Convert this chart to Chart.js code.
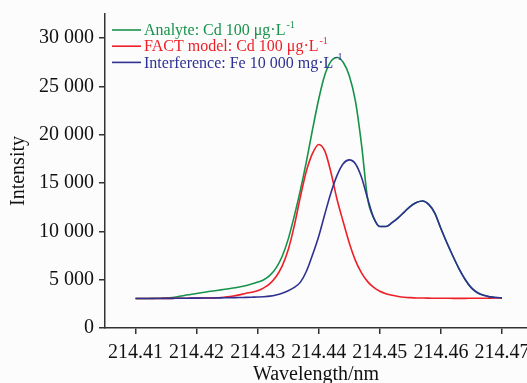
<!DOCTYPE html>
<html>
<head>
<meta charset="utf-8">
<script src="https://cdn.jsdelivr.net/npm/chart.js@4"></script>
<style>
  html, body { margin: 0; padding: 0; background: #fcfcfc; }
  #wrap { width: 527px; height: 383px; overflow: hidden; position: relative; }
  #chartbox { position: absolute; left: 0; top: -3px; }
</style>
</head>
<body>
<div id="wrap"><canvas id="chartbox" width="560" height="386"></canvas></div>
<script>
// wavelengths (nm)
const wavelength = [
  214.410, 214.411, 214.412, 214.413, 214.414, 214.415, 214.416, 214.417, 214.418, 214.419,
  214.420, 214.421, 214.422, 214.423, 214.424, 214.425, 214.426, 214.427, 214.428, 214.429,
  214.430, 214.431, 214.432, 214.433, 214.434, 214.435, 214.436, 214.437, 214.438, 214.439,
  214.440, 214.441, 214.442, 214.443, 214.444, 214.445, 214.446, 214.447, 214.448, 214.449,
  214.450, 214.451, 214.452, 214.453, 214.454, 214.455, 214.456, 214.457, 214.458, 214.459,
  214.460, 214.461, 214.462, 214.463, 214.464, 214.465, 214.466, 214.467, 214.468, 214.469,
  214.470
]

const analyte = [
  3060, 3060, 3060, 3070, 3080, 3100, 3150, 3250, 3370, 3470,
  3570, 3670, 3770, 3860, 3950, 4040, 4140, 4250, 4380, 4550,
  4750, 5000, 5450, 6200, 7400, 9200, 11600, 14300, 17300, 20600,
  23700, 26200, 27600, 28000, 27500, 26100, 23500, 19000, 13400, 11400,
  10500, 10500, 10900, 11400, 12000, 12600, 13000, 13150, 12800, 11900,
  10300, 8800, 7400, 6100, 5000, 4150, 3650, 3380, 3220, 3150,
  3120
]

const factModel = [
  3060, 3060, 3060, 3060, 3060, 3070, 3070, 3080, 3080, 3090,
  3090, 3100, 3100, 3120, 3160, 3230, 3320, 3430, 3580, 3700,
  3850, 4150, 4600, 5300, 6400, 8100, 10600, 13600, 16300, 18100,
  19000, 18300, 16100, 13300, 11000, 8800, 7000, 5700, 4800, 4200,
  3800, 3550, 3380, 3260, 3180, 3140, 3110, 3100, 3090, 3080,
  3080, 3080, 3070, 3070, 3070, 3080, 3080, 3080, 3090, 3100,
  3110
]

const interference = [
  3060, 3060, 3050, 3060, 3060, 3070, 3070, 3080, 3080, 3090,
  3090, 3100, 3100, 3110, 3120, 3130, 3140, 3150, 3170, 3190,
  3210, 3240, 3300, 3420, 3600, 3850, 4200, 4750, 5900, 7600,
  9500, 11800, 14000, 15800, 17000, 17400, 17000, 15600, 13400, 11400,
  10500, 10500, 10900, 11400, 12000, 12600, 13000, 13150, 12800, 11900,
  10300, 8800, 7400, 6100, 5000, 4150, 3650, 3380, 3220, 3150,
  3120
]

const xTicks = [214.41, 214.42, 214.43, 214.44, 214.45, 214.46, 214.47]
const yTicks = [0, 5000, 10000, 15000, 20000, 25000, 30000]

const GREEN = '#17924a'
const RED = '#ee1f26'
const BLUE = '#2e3192'
const AXIS = '#333333'
const SERIF = "'Liberation Serif', 'DejaVu Serif', serif"

const legendItems = [
  { color: GREEN, text: 'Analyte: Cd 100 μg·L', sup: '-1' },
  { color: RED, text: 'FACT model: Cd 100 μg·L', sup: '-1' },
  { color: BLUE, text: 'Interference: Fe 10 000 mg·L', sup: '-1' }
]

// legend drawn inside the plot, top-left
const insideLegend = {
  id: 'insideLegend',
  afterDatasetsDraw(chart) {
    const ctx = chart.ctx
    const x0 = chart.chartArea.left + 7
    let y = chart.chartArea.top + 16
    ctx.save()
    legendItems.forEach(it => {
      ctx.strokeStyle = it.color
      ctx.lineWidth = 1.6
      ctx.beginPath()
      ctx.moveTo(x0, y)
      ctx.lineTo(x0 + 29, y)
      ctx.stroke()
      ctx.fillStyle = it.color
      ctx.font = '16px ' + SERIF
      ctx.textBaseline = 'middle'
      ctx.fillText(it.text, x0 + 32, y + 1)
      const w = ctx.measureText(it.text).width
      ctx.font = '10px ' + SERIF
      ctx.fillText(it.sup, x0 + 32 + w + 1, y - 5)
      y += 16.2
    })
    ctx.restore()
  }
}

const fmt = v => String(v).replace(/\B(?=(\d{3})+(?!\d))/g, ' ')

const ds = (label, data, color, order) => ({
  label,
  data: data.map((v, i) => ({ x: wavelength[i], y: v })),
  borderColor: color,
  borderWidth: 1.6,
  pointRadius: 0,
  fill: false,
  cubicInterpolationMode: 'monotone',
  order
})

new Chart(document.querySelector('#chartbox'), {
  type: 'line',
  data: {
    datasets: [
      ds('Analyte: Cd 100 μg·L-1', analyte, GREEN, 2),
      ds('FACT model: Cd 100 μg·L-1', factModel, RED, 1),
      ds('Interference: Fe 10 000 mg·L-1', interference, BLUE, 0)
    ]
  },
  options: {
    responsive: false,
    animation: false,
    layout: { padding: { top: 12, right: 33, left: 0, bottom: 0 } },
    plugins: { legend: { display: false }, tooltip: { enabled: false } },
    scales: {
      x: {
        type: 'linear',
        min: 214.405,
        max: 214.4741,
        afterBuildTicks: s => { s.ticks = xTicks.map(v => ({ value: v })) },
        afterFit: s => { s.height = 55 },
        border: { display: true, color: AXIS, width: 1.5 },
        grid: { display: true, drawOnChartArea: false, drawTicks: true, tickLength: 6, color: AXIS, lineWidth: 1.5 },
        ticks: {
          color: '#111',
          font: { family: SERIF, size: 20 },
          padding: 7,
          maxRotation: 0,
          autoSkip: false,
          callback: v => v.toFixed(2)
        },
        title: {
          display: true,
          text: 'Wavelength/nm',
          color: '#111',
          font: { family: SERIF, size: 20 },
          padding: { top: 0, bottom: -4 }
        }
      },
      y: {
        min: 0,
        max: 32500,
        afterBuildTicks: s => { s.ticks = yTicks.map(v => ({ value: v })) },
        afterFit: s => { s.width = 105 },
        border: { display: true, color: AXIS, width: 1.5 },
        grid: { display: true, drawOnChartArea: false, drawTicks: true, tickLength: 6, color: AXIS, lineWidth: 1.5 },
        ticks: {
          color: '#111',
          font: { family: SERIF, size: 20 },
          padding: 5,
          callback: v => fmt(v)
        },
        title: {
          display: true,
          text: 'Intensity',
          color: '#111',
          font: { family: SERIF, size: 20 },
          padding: { top: 7, bottom: 0 }
        }
      }
    }
  },
  plugins: [insideLegend]
})
</script>
</body>
</html>
